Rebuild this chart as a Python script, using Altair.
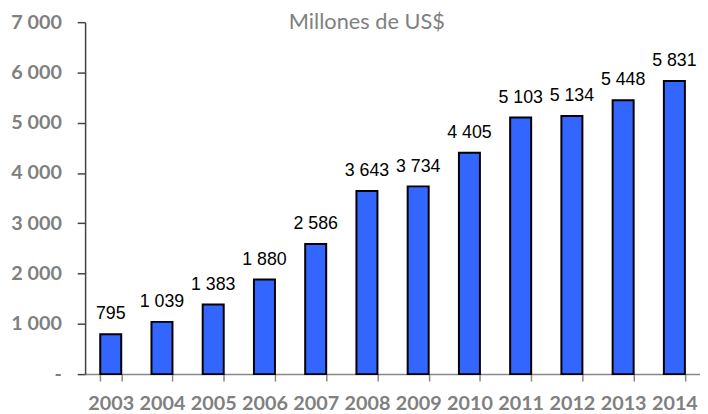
import altair as alt
import pandas as pd

years = ["2003", "2004", "2005", "2006", "2007", "2008", "2009", "2010", "2011", "2012", "2013", "2014"]
values = [795, 1039, 1383, 1880, 2586, 3643, 3734, 4405, 5103, 5134, 5448, 5831]
title_text = "Millones de US$"
y_ticks = [0, 1000, 2000, 3000, 4000, 5000, 6000, 7000]

df = pd.DataFrame({"year": years, "value": values})
df["label"] = [f"{v:,}".replace(",", " ") for v in values]

x = alt.X("year:N", sort=years, title=None,
          scale=alt.Scale(paddingInner=0.59, paddingOuter=0.295),
          axis=alt.Axis(labelAngle=0, tickBand="extent", domainColor="#888888",
                        tickColor="#888888", tickSize=7, labelPadding=13,
                        labelFont="Lato", labelFontWeight="bold", labelFontSize=20,
                        labelColor="#808080", domainWidth=1.5, tickWidth=1.5))
y = alt.Y("value:Q", title=None,
          scale=alt.Scale(domain=[0, 7000], nice=False),
          axis=alt.Axis(values=y_ticks, grid=False, domainColor="#444444",
                        tickColor="#444444", tickSize=8, labelPadding=16,
                        labelFont="Lato", labelFontWeight="bold", labelFontSize=20,
                        labelColor="#808080", domainWidth=1.5, tickWidth=1.5,
                        labelExpr="datum.value == 0 ? '-' : replace(format(datum.value, ','), ',', ' ')"))

bars = alt.Chart(df).mark_bar(color="#3366FF", stroke="black", strokeWidth=2).encode(x=x, y=y)
labels = alt.Chart(df).mark_text(font="Liberation Sans", fontSize=18, color="black",
                                 baseline="alphabetic", dy=-15).encode(x=x, y=y, text="label:N")
title = alt.Chart(pd.DataFrame({"t": [title_text]})).mark_text(
    font="Lato", fontSize=22, color="#808080", align="center", baseline="alphabetic"
).encode(x=alt.value(285), y=alt.value(7), text="t:N")

chart = alt.layer(bars, labels, title).properties(
    width=622, height=356,
    autosize=alt.AutoSizeParams(type="none"),
    padding={"left": 78, "top": 12, "right": 0, "bottom": 38},
).configure_view(stroke=None)

chart.save("out.html", embed_options={"renderer": "svg", "actions": False})
